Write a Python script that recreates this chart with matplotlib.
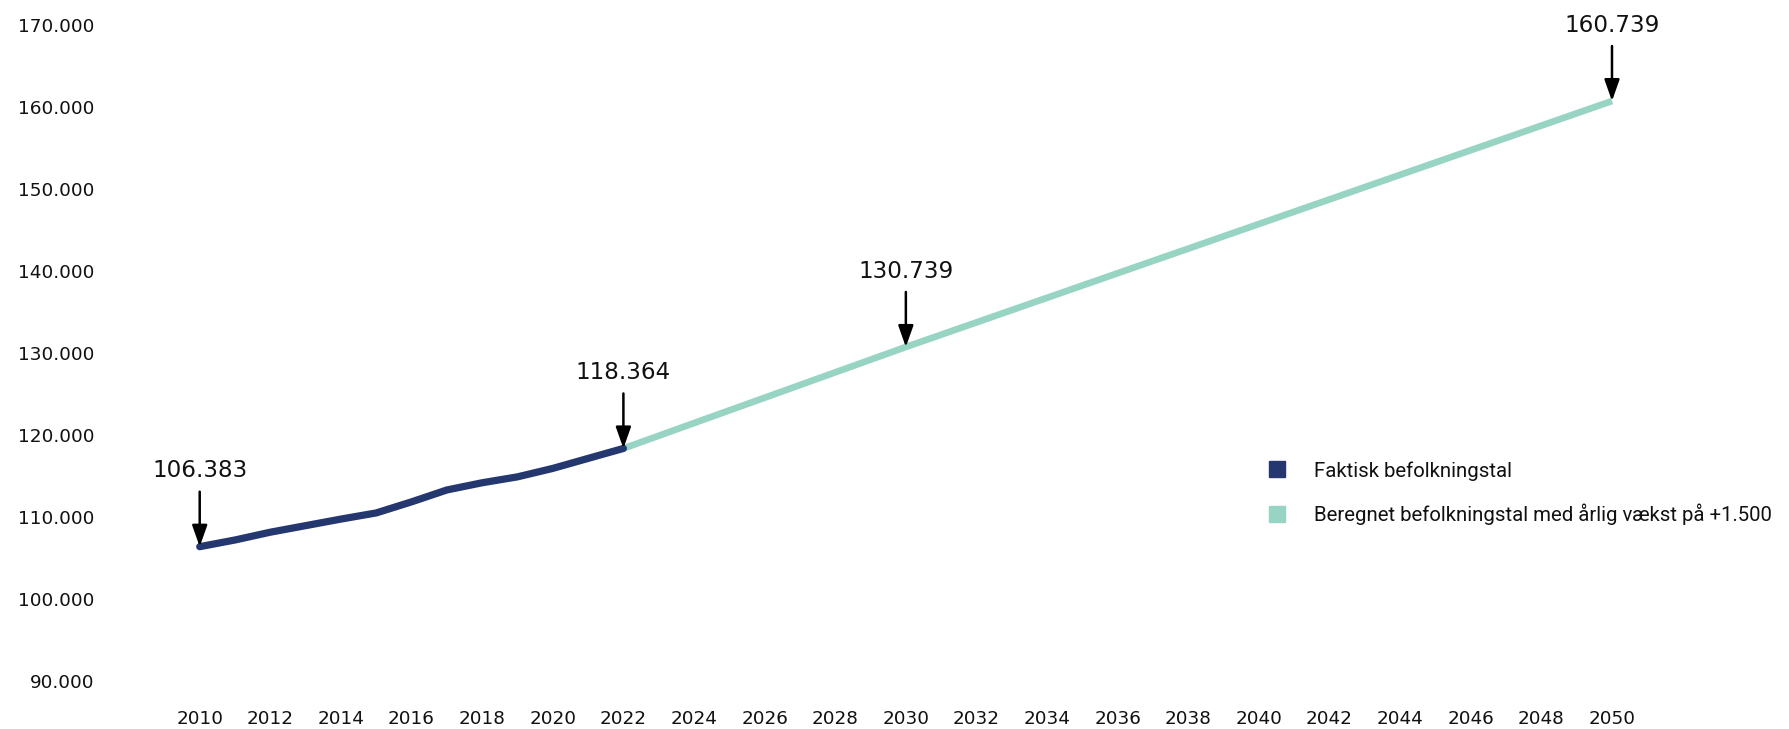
import matplotlib
matplotlib.use("Agg")
import matplotlib.pyplot as plt
from matplotlib.lines import Line2D

# ---- data ----
actual_years = [2010, 2011, 2012, 2013, 2014, 2015, 2016, 2017, 2018, 2019, 2020, 2021, 2022]
actual_pop = [106383, 107200, 108150, 108950, 109750, 110500, 111850, 113300, 114180, 114900, 115930, 117150, 118364]

proj_years = list(range(2022, 2051))
proj_pop = [118364, 119911, 121458, 123005, 124552, 126098, 127645, 129192, 130739,
            132239, 133739, 135239, 136739, 138239, 139739, 141239, 142739, 144239,
            145739, 147239, 148739, 150239, 151739, 153239, 154739, 156239, 157739,
            159239, 160739]

annot_years = [2010, 2022, 2030, 2050]
annot_vals = [106383, 118364, 130739, 160739]
annot_labels = ["106.383", "118.364", "130.739", "160.739"]

xticks = list(range(2010, 2051, 2))
yticks = list(range(90000, 170001, 10000))

label_actual = "Faktisk befolkningstal"
label_proj = "Beregnet befolkningstal med årlig vækst på +1.500"

blue = "#24376e"
green = "#97d4c3"

W, H = 1789, 729
fig = plt.figure(figsize=(W / 100, H / 100), dpi=100)
left_px, right_px = 164.4, 1647.3
top_px, bot_px = 8.7, 700
ax = fig.add_axes([left_px / W, 1 - bot_px / H, (right_px - left_px) / W, (bot_px - top_px) / H])

ax.plot(proj_years, proj_pop, color=green, lw=4.8, solid_capstyle="butt", zorder=2)
ax.plot(actual_years, actual_pop, color=blue, lw=5.2, solid_capstyle="round",
        solid_joinstyle="round", zorder=3)

ax.set_xlim(2009, 2051)
ax.set_ylim(87683, 172000)

ax.set_xticks(xticks)
ax.set_xticklabels([str(y) for y in xticks])
ax.set_yticks(yticks)
ax.set_yticklabels([f"{v:,}".replace(",", ".") for v in yticks])

for s in ax.spines.values():
    s.set_visible(False)
ax.tick_params(axis="both", length=0, colors="#111111")
ax.tick_params(axis="y", pad=50.5, labelsize=13.3)
ax.tick_params(axis="x", pad=7, labelsize=13.2)
for lab in ax.get_xticklabels() + ax.get_yticklabels():
    lab.set_family("DejaVu Sans")

for yr, v, txt in zip(annot_years, annot_vals, annot_labels):
    ax.annotate("", xy=(yr, v), xytext=(0, 39.6), textcoords="offset points",
                arrowprops=dict(arrowstyle="-|>,head_length=0.65,head_width=0.23",
                                mutation_scale=20, lw=1.8, color="black",
                                shrinkA=0, shrinkB=0), zorder=5)
    ax.annotate(txt, xy=(yr, v), xytext=(0, 54.7), textcoords="offset points",
                ha="center", va="center", fontsize=16.6, family="DejaVu Sans",
                color="#111111", zorder=5)

handles = [Line2D([], [], marker="s", linestyle="none", color=blue, markersize=11),
           Line2D([], [], marker="s", linestyle="none", color=green, markersize=11)]
leg = fig.legend(handles, [label_actual, label_proj], loc="center left",
                 bbox_to_anchor=(1267 / W, 1 - 493 / H), frameon=False,
                 borderpad=0, borderaxespad=0, handlelength=1.0, handletextpad=1.3,
                 labelspacing=1.12, prop={"family": "Roboto", "size": 14.7})
for t in leg.get_texts():
    t.set_color("#111111")

fig.savefig("out.png", dpi=100)
